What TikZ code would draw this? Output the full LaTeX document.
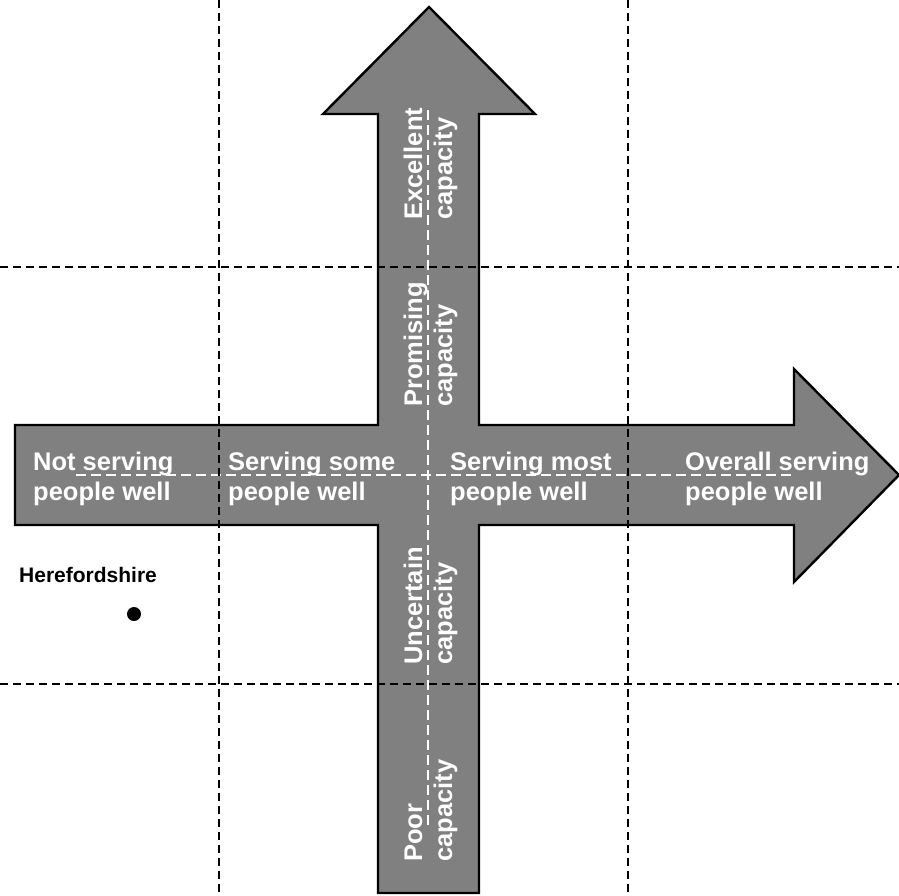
\documentclass[tikz,border=0pt]{standalone}
\usepackage{fontspec}
\setmainfont{Liberation Sans}
\usetikzlibrary{positioning}
\begin{document}
\begin{tikzpicture}[x=1pt, y=-1pt,
    axis label/.style={font=\bfseries\fontsize{25.5}{30}\selectfont,
        text=white, align=left, anchor=base west, inner sep=0pt},
    capacity label/.style={axis label, rotate=90},
    grid line/.style={dash pattern=on 8pt off 5pt, line width=2pt},
    mid line/.style={white, dash pattern=on 10pt off 5pt, line width=1.6pt}]
    \useasboundingbox (0,0) rectangle (899,895);

    % crossing arrows
    \draw[fill=gray, line width=2.4pt, line join=miter]
        (15,425) -- (378,425) -- (378,114) -- (323,114) -- (429,7)
        -- (535,114) -- (479,114) -- (479,425) -- (794,425) -- (794,369)
        -- (899,475) -- (794,582) -- (794,525) -- (479,525) -- (479,893)
        -- (378,893) -- (378,525) -- (15,525) -- cycle;
    \draw[mid line] (76,475) -- (793,475);
    \draw[mid line] (428,110) -- (428,827);

    % serving labels (base = last line)
    \node[axis label] (notwell)  at (33,500)  {Not serving\\people well};
    \node[axis label] (somewell) at (228,500) {Serving some\\people well};
    \node[axis label] (mostwell) at (450,500) {Serving most\\people well};
    \node[axis label] (allwell)  at (685,500) {Overall serving\\people well};

    % capacity labels
    \node[capacity label] (excellent) at (452,220) {Excellent\\capacity};
    \node[capacity label] (promising) at (452,407) {Promising\\capacity};
    \node[capacity label] (uncertain) at (452,665) {Uncertain\\capacity};
    \node[capacity label] (poor)      at (452,862) {Poor\\capacity};

    % council
    \node[font=\bfseries\fontsize{21}{25}\selectfont, anchor=base west,
        inner sep=0pt] (hereford) at (19,582) {Herefordshire};
    \node[circle, fill, inner sep=0pt, minimum size=14pt] (dot) at (134,614) {};

    % grid
    \foreach \gx in {219,628}
        \draw[grid line] (\gx,0) -- (\gx,895);
    \foreach \gy in {267,684}
        \draw[grid line] (0,\gy) -- (899,\gy);
\end{tikzpicture}
\end{document}
